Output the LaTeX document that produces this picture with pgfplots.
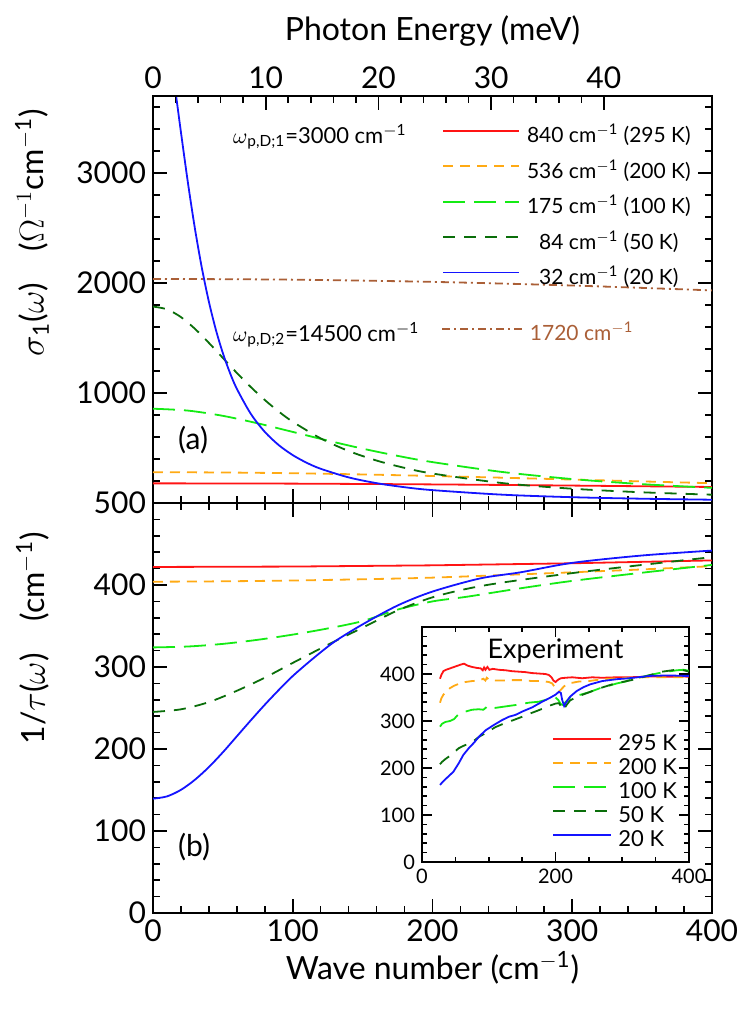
\documentclass[border=0pt]{standalone}
\usepackage{fontspec}
\setmainfont{Lato}
\usepackage{pgfplots}
\pgfplotsset{compat=1.18}
\definecolor{cred}{RGB}{255,20,20}
\definecolor{corange}{RGB}{255,170,20}
\definecolor{cgreen}{RGB}{20,235,20}
\definecolor{cdgreen}{RGB}{10,110,10}
\definecolor{cblue}{RGB}{20,20,255}
\definecolor{cbrown}{RGB}{170,95,55}
\tikzset{
 s295/.style={cred, line width=0.9pt, solid},
 s200/.style={corange, line width=0.9pt, dash pattern=on 5pt off 3.5pt},
 s100/.style={cgreen, line width=0.9pt, dash pattern=on 11pt off 4.5pt},
 s50/.style={cdgreen, line width=0.9pt, dash pattern=on 6pt off 4.5pt},
 s20/.style={cblue, line width=0.9pt, solid},
 sbr/.style={cbrown, line width=0.9pt, dash pattern=on 4pt off 2pt on 1pt off 2pt},
}
\pgfplotsset{
 myax/.style={
  scale only axis, width=279.5pt,
  xmin=0, xmax=400,
  axis line style={line width=1pt},
  every tick/.style={line width=0.8pt, black},
  major tick length=7pt, minor tick length=3.5pt,
  tick align=inside,
  /pgf/number format/assume math mode=true,
  /pgf/number format/1000 sep={},
  scaled ticks=false,
  tick label style={font=\fontsize{15}{17}\selectfont},
  label style={font=\fontsize{16}{18}\selectfont},
 },
}
\newcommand{\cmi}{cm\textsuperscript{$-$1}}
\begin{document}
\begin{tikzpicture}
% ---------------- bottom panel: 1/tau ----------------
\begin{axis}[myax, at={(0,0)}, anchor=south west, height=205pt,
  ymin=0, ymax=500, ytick={0,100,...,500}, minor y tick num=4,
  xtick={0,100,...,400}, minor x tick num=4,
  xlabel={Wave number (\cmi)},
  ylabel={1/$\tau$($\omega$)\quad(\cmi)},
  xlabel style={at={(axis description cs:0.5,0)}, anchor=center, yshift=-27.5pt},
  ylabel style={at={(axis description cs:-0.215,0.67)}, anchor=center},
]
\addplot[s295] coordinates {(0,422) (100,422.5) (200,424) (300,426.5) (400,430)};
\addplot[s200, smooth] coordinates {(0,404) (50,404.5) (100,405.5) (150,407) (200,409) (263,413) (300,415.5) (350,419) (400,423)};
\addplot[s100, smooth] coordinates {(0,323.9) (25,325) (50,328.2) (75,333.2) (100,339.5) (125,347) (150,356) (175,370) (200,380) (225,385.8) (263,396) (300,405) (350,415) (400,424.5)};
\addplot[s50, smooth] coordinates {(0,245.2) (20,248.4) (40,257.2) (60,271) (80,287) (100,305) (125,327) (150,348) (175,369) (200,385) (225,395.5) (250,403) (300,414.5) (350,424.5) (400,434)};
\addplot[s20, smooth] coordinates {(0,139.4) (10,142.2) (20,150.2) (30,162.5) (40,178) (50,196) (60,215.5) (70,235) (80,254) (90,272) (100,289) (115,311) (130,331) (150,352) (175,375) (200,392) (234,408) (263,415.5) (300,427) (350,436) (400,442)};
\node[anchor=west, font=\fontsize{15}{17}\selectfont] at (axis cs:13,80) {(b)};
\end{axis}
% ---------------- inset ----------------
\begin{axis}[myax, at={(134.5pt,25.5pt)}, anchor=south west, width=133.5pt, height=117.5pt,
  xmin=0, xmax=400, ymin=0, ymax=500,
  xtick={0,200,400}, minor x tick num=3,
  ytick={0,100,...,400}, minor ytick={20,40,...,480},
  major tick length=5pt, minor tick length=2.5pt,
  axis line style={line width=0.9pt},
  tick label style={font=\fontsize{10}{12}\selectfont},
  axis background/.style={fill=white},
  legend style={at={(0.465,0.56)}, anchor=north west, draw=none, fill=none,
    font=\fontsize{11}{13}\selectfont, row sep=1.5pt, column sep=3pt,
    nodes={inner sep=0pt, text height=8pt, text depth=2.5pt}},
  legend cell align=left,
  legend image code/.code={\draw[#1] (0pt,3pt) -- (29pt,3pt);},
]
\addplot[s295] coordinates {(27,390) (29,398) (32,406) (36,409) (42,412) (50,416) (58,420) (63,422) (68,418) (75,415) (82,413) (88,412) (91,408) (93,414) (95,409) (98,415) (101,409) (106,411) (115,409) (125,408) (135,406) (145,405) (155,404) (165,402) (175,401) (185,400) (190,398) (194,393) (197,386) (200,383) (204,388) (208,391) (215,392) (225,393) (240,391) (255,393) (270,392) (290,393) (310,393) (330,394) (350,395) (370,394) (390,395) (400,394)};
\addlegendentry{295 K}
\addplot[s200] coordinates {(27,339) (29,348) (32,356) (36,362) (42,370) (48,375) (55,379) (65,383) (75,385) (85,386) (92,390) (95,386) (97,392) (100,388) (110,386) (120,386) (135,387) (150,387) (165,385) (180,385) (190,383) (195,380) (199,372) (202,363) (205,362) (209,368) (213,374) (220,380) (235,384) (250,385) (265,388) (280,390) (300,391) (330,393) (360,393) (400,393)};
\addlegendentry{200 K}
\addplot[s100] coordinates {(27,288) (30,294) (35,298) (42,300) (48,304) (53,312) (58,318) (65,320) (75,324) (85,325) (92,324) (97,330) (100,326) (105,327) (115,329) (130,332) (145,335) (160,339) (175,341) (188,346) (196,350) (200,350) (204,345) (208,336) (211,334) (215,340) (222,350) (235,355) (250,361) (267,370) (280,375) (292,380) (305,384) (317,390) (330,394) (342,398) (355,402) (367,405) (382,408) (392,409) (400,407)};
\addlegendentry{100 K}
\addplot[s50] coordinates {(27,208) (30,213) (35,219) (42,226) (50,236) (55,242) (62,247) (70,252) (78,258) (85,266) (95,274) (110,287) (125,296) (137,302) (150,309) (162,316) (175,323) (190,332) (200,337) (205,338) (209,330) (212,323) (216,333) (222,344) (235,353) (250,361) (267,370) (285,378) (300,383) (317,388) (335,395) (350,401) (360,405) (375,408) (385,410) (395,407) (400,405)};
\addlegendentry{50 K}
\addplot[s20] coordinates {(27,164) (32,172) (38,180) (47,192) (55,210) (62,228) (70,242) (78,254) (85,266) (95,280) (107,291) (120,302) (130,309) (140,313) (150,320) (165,329) (180,341) (190,348) (200,356) (205,362) (208,360) (210,345) (213,332) (216,340) (222,352) (232,364) (242,372) (252,378) (270,385) (292,389) (310,391) (342,396) (370,397) (392,396) (400,396)};
\addlegendentry{20 K}
\node[font=\fontsize{13.5}{15}\selectfont] at (axis cs:200,449) {Experiment};
\end{axis}
% ---------------- top panel: sigma_1 ----------------
\begin{axis}[myax, at={(0,205pt)}, anchor=south west, height=203.5pt,
  ymin=0, ymax=3700, ytick={1000,2000,3000}, minor ytick={200,400,...,3600},
  xtick={0,100,...,400}, minor x tick num=4, xtick pos=left, xticklabel=\empty,
  ylabel={$\sigma$\textsubscript{1}($\omega$)\quad($\Omega^{-1}$cm\textsuperscript{$-$1})},
  ylabel style={at={(axis description cs:-0.2165,0.663)}, anchor=center},
  legend style={at={(0.506,0.94)}, anchor=north west, draw=none, fill=none,
    font=\fontsize{10.5}{12}\selectfont, row sep=5.7pt, column sep=3.5pt,
    nodes={inner sep=0pt, text height=9pt, text depth=3pt}},
  legend cell align=center,
  legend image code/.code={\draw[#1] (0pt,3pt) -- (38pt,3pt);},
]
\addplot[s295, smooth] coordinates {(0,178.6) (100,176.1) (200,169.0) (300,158.4) (400,145.6)};
\addlegendentry{840 \cmi{} (295 K)}
\addplot[s200, smooth] coordinates {(0,279.9) (50,277.4) (100,270.4) (150,259.5) (200,245.6) (250,229.9) (300,213.1) (350,196.2) (400,179.8)};
\addlegendentry{536 \cmi{} (200 K)}
\addplot[s100, smooth] coordinates {(0,857.1) (25,840.0) (50,792.4) (75,724.1) (100,646.2) (125,567.6) (150,494.1) (175,428.6) (200,371.7) (250,281.9) (300,217.6) (350,171.4) (400,137.7)};
\addlegendentry{175 \cmi{} (100 K)}
\addplot[s50, smooth] coordinates {(0,1785.7) (10,1760.8) (20,1690.0) (30,1583.7) (40,1455.6) (50,1318.5) (60,1182.4) (70,1053.9) (80,936.4) (90,831.3) (100,738.7) (120,587.2) (140,472.7) (160,385.8) (180,319.3) (200,267.8) (250,181.1) (300,129.8) (350,97.3) (400,75.4)};
\addlegendentry{84 \cmi{} (50 K)}
\addplot[s20, smooth] coordinates {(0,4687.5) (5,4575.8) (10,4270.2) (15,3843.1) (20,3370.8) (25,2910.8) (30,2494.8) (35,2134.2) (40,1829.3) (45,1574.3) (50,1362.1) (55,1185.5) (60,1038.1) (70,810.3) (80,646.6) (90,526.1) (100,435.4) (110,365.7) (120,311.2) (140,232.7) (160,180.3) (180,143.6) (200,117.0) (250,75.6) (300,52.7) (350,38.9) (400,29.8)};
\addlegendentry{32 \cmi{} (20 K)}
\addplot[sbr, smooth, forget plot] coordinates {(0,2037.3) (100,2030.4) (200,2010.2) (300,1977.1) (400,1932.8)};
\node[anchor=west, inner sep=0pt, font=\fontsize{11}{13}\selectfont] at (axis cs:57,3330) {$\omega$\textsubscript{p,D;1}=3000 \cmi};
\node[anchor=west, inner sep=0pt, font=\fontsize{11}{13}\selectfont] at (axis cs:57,1530) {$\omega$\textsubscript{p,D;2}=14500 \cmi};
\node[anchor=west, font=\fontsize{15}{17}\selectfont] at (axis cs:13,573) {(a)};
\end{axis}
% overlay for the second-Drude legend entry
\begin{axis}[myax, at={(0,205pt)}, anchor=south west, height=203.5pt,
  ymin=0, ymax=3700, hide axis,
  legend style={at={(0.504,0.413)}, anchor=west, draw=none, fill=none,
    font=\fontsize{10.5}{12}\selectfont, column sep=3.5pt,
    nodes={inner sep=0pt, text height=9pt, text depth=3pt}},
  legend image code/.code={\draw[#1] (0pt,3pt) -- (40pt,3pt);},
]
\addlegendimage{sbr}
\addlegendentry{\textcolor{cbrown}{1720 \cmi}}
\end{axis}
% overlay for the photon energy axis
\begin{axis}[myax, at={(0,205pt)}, anchor=south west, height=203.5pt,
  xmin=0, xmax=49.594, ymin=0, ymax=1,
  axis x line*=top, axis y line=none,
  xtick align=inside,
  xtick={0,10,20,30,40}, minor x tick num=4,
  xlabel={Photon Energy (meV)},
  xlabel style={at={(axis description cs:0.5,1)}, anchor=center, yshift=32.5pt},
]
\addplot[draw=none] coordinates {(0,0) (10,1)};
\end{axis}
\pgfresetboundingbox
\path (-76.5pt,-50.5pt) rectangle (297pt,456.5pt);
\end{tikzpicture}
\end{document}
